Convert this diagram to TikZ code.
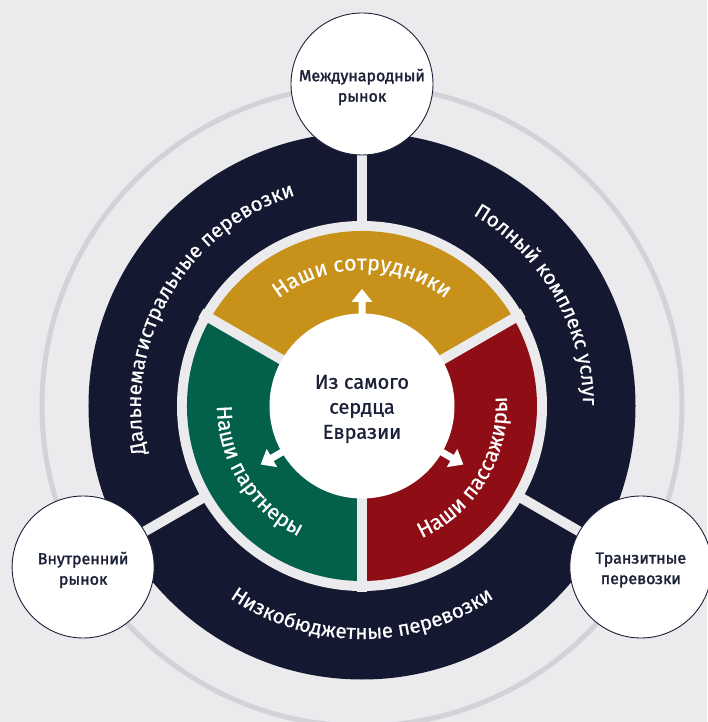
\documentclass[tikz,border=0pt]{standalone}
\usepackage{fontspec}
\setmainfont{Fira Sans}
\newfontfamily\medfont{Fira Sans}[FakeBold=1.0]
\newfontfamily\semifont{Fira Sans}[FakeBold=1.8]
\newfontfamily\lightbold{Fira Sans}[FakeBold=0.5]
\usetikzlibrary{decorations.text}
\definecolor{bgc}{HTML}{EBEBEE}
\definecolor{ringc}{HTML}{D3D3D7}
\definecolor{navy}{HTML}{141830}
\definecolor{goldc}{HTML}{C8921A}
\definecolor{greenc}{HTML}{03614B}
\definecolor{redc}{HTML}{8F0E16}
\definecolor{inkc}{HTML}{1C2038}
\begin{document}
\begin{tikzpicture}[x=1pt,y=1pt,
  outercirc/.style={circle, draw=inkc, line width=0.9pt, fill=white, minimum size=142pt, inner sep=0pt},
  circlabel/.style={align=center, text=inkc, font=\semifont\fontsize{16}{20.5}\selectfont},
  spoke/.style={draw=bgc, line width=10pt},
  ringtext/.style={decorate, decoration={text along path, text align=center, text={|\color{white}\lightbold\fontsize{20.5}{24}\selectfont|#1}}},
  segtext/.style={decorate, decoration={text along path, text align=center, text={|\color{white}\lightbold\fontsize{21.5}{26}\selectfont|#1}}}
]
\useasboundingbox (-362,-316) rectangle (345,406);
\fill[bgc] (-362,-316) rectangle (345,406);
\draw[ringc, line width=5pt] (0,0) circle[radius=320pt];
\fill[navy] (0,0) circle[radius=273.5pt];
\fill[bgc] (0,0) circle[radius=185pt];
\fill[goldc] (0,0) -- (30:175pt) arc[start angle=30, end angle=150, radius=175pt] -- cycle;
\fill[redc] (0,0) -- (-90:175pt) arc[start angle=-90, end angle=30, radius=175pt] -- cycle;
\fill[greenc] (0,0) -- (150:175pt) arc[start angle=150, end angle=270, radius=175pt] -- cycle;
\foreach \a in {30,150,270} \draw[spoke] (0,0) -- (\a:186pt);
\foreach \a in {90,210,330} \draw[spoke] (\a:180pt) -- (\a:300pt);
\node[circle, fill=white, minimum size=185pt, inner sep=0pt] (core) at (0,0) {};
\node[align=center, text=inkc, font=\medfont\fontsize{20}{25}\selectfont] (coretext) at (0,-3) {Из самого\\сердца\\Евразии};
\foreach \a in {90,210,330}
  \fill[white, rotate=\a] (85,-3.5) -- (104,-3.5) -- (104,-10.5) -- (117,0) -- (104,10.5) -- (104,3.5) -- (85,3.5) -- cycle;
\path[ringtext={Дальнемагистральные перевозки}] (210:221pt) arc[start angle=210, end angle=90, radius=221pt];
\path[ringtext={Полный комплекс услуг}] (90:221pt) arc[start angle=90, end angle=-30, radius=221pt];
\path[ringtext={Низкобюджетные перевозки}] (210:233pt) arc[start angle=210, end angle=330, radius=233pt];
\path[segtext={Наши сотрудники}] (150:136pt) arc[start angle=150, end angle=30, radius=136pt];
\path[segtext={Наши пассажиры}] (-90:145pt) arc[start angle=-90, end angle=28, radius=145pt];
\path[segtext={Наши партнеры}] (152:145pt) arc[start angle=152, end angle=272, radius=145pt];
\node[outercirc] (intl) at (90:322pt) {};
\node[circlabel] (intltext) at ([yshift=-3pt]intl.center) {Международный\\рынок};
\node[outercirc] (dom) at (210:322pt) {};
\node[circlabel] (domtext) at ([yshift=-3pt]dom.center) {Внутренний\\рынок};
\node[outercirc] (trans) at (330:322pt) {};
\node[circlabel] (transtext) at ([yshift=-3pt]trans.center) {Транзитные\\перевозки};
\end{tikzpicture}
\end{document}
